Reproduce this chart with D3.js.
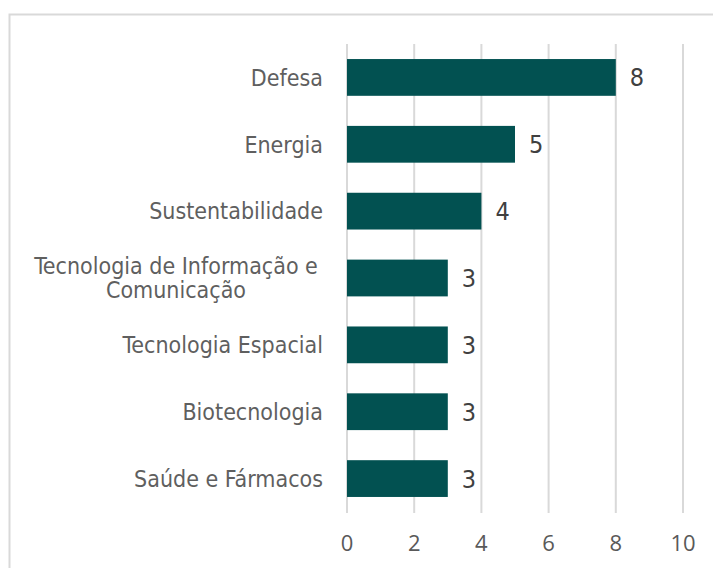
<!DOCTYPE html>
<html>
<head>
<meta charset="utf-8">
<script src="https://cdn.jsdelivr.net/npm/d3@7"></script>
<style>
  body { margin: 0; background: #fff; }
</style>
</head>
<body>
<div id="chart"></div>
<script>
var categories = ["Defesa", "Energia", "Sustentabilidade", "Tecnologia de Informação e|Comunicação",
                  "Tecnologia Espacial", "Biotecnologia", "Saúde e Fármacos"];
var values = [8, 5, 4, 3, 3, 3, 3];
var ticks = [0, 2, 4, 6, 8, 10];

var width = 713, height = 568;
var margin = {left: 347, right: 30, top: 44, bottom: 56};

var svg = d3.select("#chart").append("svg")
  .attr("width", width)
  .attr("height", height);

// outer frame (only top and left edges are visible in the crop)
svg.append("rect")
  .attr("x", 9.5).attr("y", 14.5)
  .attr("width", width + 20).attr("height", height + 20)
  .attr("fill", "none")
  .attr("stroke", "#d9d9d9")
  .attr("stroke-width", 2);

var x = d3.scaleLinear().domain([0, 10]).range([margin.left, 683]);
var y = d3.scaleBand().domain(categories).range([margin.top, 512]).paddingInner(0.45).paddingOuter(0.225);

// gridlines
svg.selectAll(".grid").data(ticks).enter()
  .append("line")
  .attr("class", "grid")
  .attr("x1", d => x(d)).attr("x2", d => x(d))
  .attr("y1", margin.top).attr("y2", 513)
  .attr("stroke", "#d9d9d9")
  .attr("stroke-width", 2);

// bars
svg.selectAll(".bar").data(values).enter()
  .append("rect")
  .attr("class", "bar")
  .attr("x", x(0))
  .attr("y", (d, i) => y(categories[i]))
  .attr("width", d => x(d) - x(0))
  .attr("height", y.bandwidth())
  .attr("fill", "#025151");

// value labels
svg.selectAll(".val").data(values).enter()
  .append("text")
  .attr("class", "val")
  .attr("x", d => x(d) + 14)
  .attr("y", (d, i) => y(categories[i]) + y.bandwidth() / 2)
  .attr("dy", "0.36em")
  .attr("font-family", "'DejaVu Sans Condensed', 'DejaVu Sans', sans-serif")
  .attr("font-size", 25)
  .attr("fill", "#404040")
  .text(d => d);

// category labels
var cat = svg.selectAll(".cat").data(categories).enter()
  .append("text")
  .attr("class", "cat")
  .attr("font-family", "'DejaVu Sans Condensed', 'DejaVu Sans', sans-serif")
  .attr("font-size", 23)
  .attr("fill", "#5f5f5f")
  .attr("transform", d => "translate(0," + (y(d) + y.bandwidth() / 2) + ")");

cat.each(function(d) {
  var lines = d.split("|");
  var t = d3.select(this);
  var anchor = lines.length > 1 ? "middle" : "end";
  var xpos = lines.length > 1 ? 176 : 323;
  t.attr("text-anchor", anchor);
  lines.forEach(function(l, j) {
    t.append("tspan")
      .attr("x", xpos)
      .attr("y", (j - (lines.length - 1) / 2) * 24)
      .attr("dy", "0.36em")
      .text(l);
  });
});

// x axis tick labels
svg.selectAll(".tick").data(ticks).enter()
  .append("text")
  .attr("class", "tick")
  .attr("x", d => x(d))
  .attr("y", 551)
  .attr("text-anchor", "middle")
  .attr("font-family", "'Open Sans', sans-serif")
  .attr("font-size", 22)
  .attr("fill", "#595959")
  .text(d => d);
</script>
</body>
</html>
